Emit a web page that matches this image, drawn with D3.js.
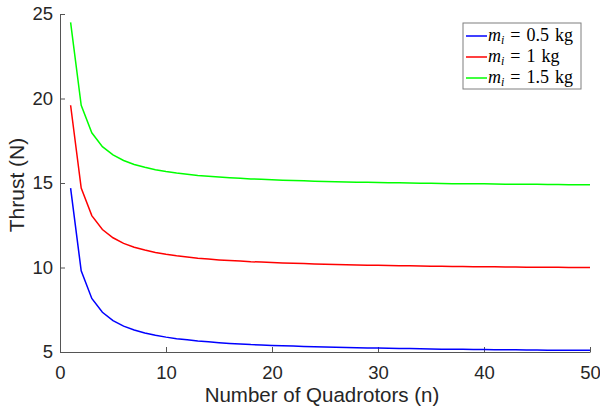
<!DOCTYPE html>
<html>
<head>
<meta charset="utf-8">
<script src="https://cdnjs.cloudflare.com/ajax/libs/d3/7.8.5/d3.min.js"></script>
<style>
  body { margin: 0; background: #fff; }
  svg { display: block; }
</style>
</head>
<body>
<div id="chart"></div>
<script>
// data
var quadCount = d3.range(1, 51);
var thrustLight = [14.7, 9.8, 8.17, 7.35, 6.86, 6.53, 6.3, 6.13, 5.99, 5.88,
  5.79, 5.72, 5.65, 5.6, 5.55, 5.51, 5.48, 5.44, 5.42, 5.39,
  5.37, 5.35, 5.33, 5.31, 5.29, 5.28, 5.26, 5.25, 5.24, 5.23,
  5.22, 5.21, 5.2, 5.19, 5.18, 5.17, 5.16, 5.16, 5.15, 5.15,
  5.14, 5.13, 5.13, 5.12, 5.12, 5.11, 5.11, 5.1, 5.1, 5.1];
var thrustMid = [19.6, 14.7, 13.07, 12.25, 11.76, 11.43, 11.2, 11.03, 10.89, 10.78,
  10.69, 10.62, 10.55, 10.5, 10.45, 10.41, 10.38, 10.34, 10.32, 10.29,
  10.27, 10.25, 10.23, 10.21, 10.19, 10.18, 10.16, 10.15, 10.14, 10.13,
  10.12, 10.11, 10.1, 10.09, 10.08, 10.07, 10.06, 10.06, 10.05, 10.05,
  10.04, 10.03, 10.03, 10.02, 10.02, 10.01, 10.01, 10.0, 10.0, 10.0];
var thrustHeavy = [24.5, 19.6, 17.97, 17.15, 16.66, 16.33, 16.1, 15.93, 15.79, 15.68,
  15.59, 15.52, 15.45, 15.4, 15.35, 15.31, 15.28, 15.24, 15.22, 15.19,
  15.17, 15.15, 15.13, 15.11, 15.09, 15.08, 15.06, 15.05, 15.04, 15.03,
  15.02, 15.01, 15.0, 14.99, 14.98, 14.97, 14.96, 14.96, 14.95, 14.95,
  14.94, 14.93, 14.93, 14.92, 14.92, 14.91, 14.91, 14.9, 14.9, 14.9];
var massLabels = ["0.5", "1", "1.5"];
var lineColors = ["#0000ff", "#ff0000", "#00ff00"];
var xTicks = [0, 10, 20, 30, 40, 50];
var yTicks = [5, 10, 15, 20, 25];

var svgWidth = 600;
var svgHeight = 412;

var margin = { top: 14, right: 10, bottom: 60, left: 60 };
var width = 590 - margin.left;
var height = 352 - margin.top;

var svg = d3.select("#chart")
  .append("svg")
  .attr("width", svgWidth)
  .attr("height", svgHeight);

var chartGroup = svg.append("g")
  .attr("transform", `translate(${margin.left}, ${margin.top})`);

var xScale = d3.scaleLinear().domain([0, 50]).range([0, width]);
var yScale = d3.scaleLinear().domain([5, 25]).range([height, 0]);

var axisColor = "#555555";
var tickFont = "Liberation Sans, Arial, sans-serif";

// x axis (ticks point inward, MATLAB style)
var xAxis = chartGroup.append("g")
  .attr("transform", `translate(0, ${height})`)
  .call(d3.axisBottom(xScale).tickValues(xTicks).tickSizeInner(-5).tickSizeOuter(0).tickPadding(14));

// y axis
var yAxis = chartGroup.append("g")
  .call(d3.axisLeft(yScale).tickValues(yTicks).tickSizeInner(-5).tickSizeOuter(0).tickPadding(7));

[xAxis, yAxis].forEach(function(ax) {
  ax.select(".domain").attr("stroke", axisColor).attr("stroke-width", 1);
  ax.selectAll(".tick line").attr("stroke", axisColor);
  ax.selectAll(".tick text")
    .attr("fill", "#262626")
    .style("font-family", tickFont)
    .style("font-size", "18.5px");
});

// lines
var series = [thrustLight, thrustMid, thrustHeavy];
var line = d3.line()
  .x(function(d, i) { return xScale(quadCount[i]); })
  .y(function(d) { return yScale(d); });

series.forEach(function(values, k) {
  chartGroup.append("path")
    .datum(values)
    .attr("fill", "none")
    .attr("stroke", lineColors[k])
    .attr("stroke-width", 1.5)
    .attr("d", line);
});

// axis labels
svg.append("text")
  .attr("x", 322)
  .attr("y", 402)
  .attr("text-anchor", "middle")
  .attr("fill", "#262626")
  .style("font-family", tickFont)
  .style("font-size", "20.5px")
  .text("Number of Quadrotors (n)");

svg.append("text")
  .attr("transform", "translate(24, 185) rotate(-90)")
  .attr("text-anchor", "middle")
  .attr("fill", "#262626")
  .style("font-family", tickFont)
  .style("font-size", "21px")
  .text("Thrust (N)");

// legend
var legend = svg.append("g").attr("transform", "translate(463, 23)");

legend.append("rect")
  .attr("width", 118)
  .attr("height", 66)
  .attr("fill", "#fff")
  .attr("stroke", "#7f7f7f")
  .attr("stroke-width", 1);

massLabels.forEach(function(m, k) {
  var yRow = 13 + k * 21;
  legend.append("line")
    .attr("x1", 3).attr("x2", 24)
    .attr("y1", yRow).attr("y2", yRow)
    .attr("stroke", lineColors[k])
    .attr("stroke-width", 1.5);
  var t = legend.append("text")
    .attr("x", 25)
    .attr("y", yRow + 5)
    .attr("fill", "#000")
    .style("font-family", "Liberation Serif, DejaVu Serif, serif")
    .style("font-size", "18px");
  t.append("tspan").style("font-style", "italic").text("m");
  t.append("tspan").style("font-style", "italic").style("font-size", "12px").attr("dy", 3).text("i");
  t.append("tspan").attr("dy", -3).attr("dx", 6).text("=");
  t.append("tspan").attr("dx", 6).text(m);
  t.append("tspan").attr("dx", 6).text("kg");
});
</script>
</body>
</html>
